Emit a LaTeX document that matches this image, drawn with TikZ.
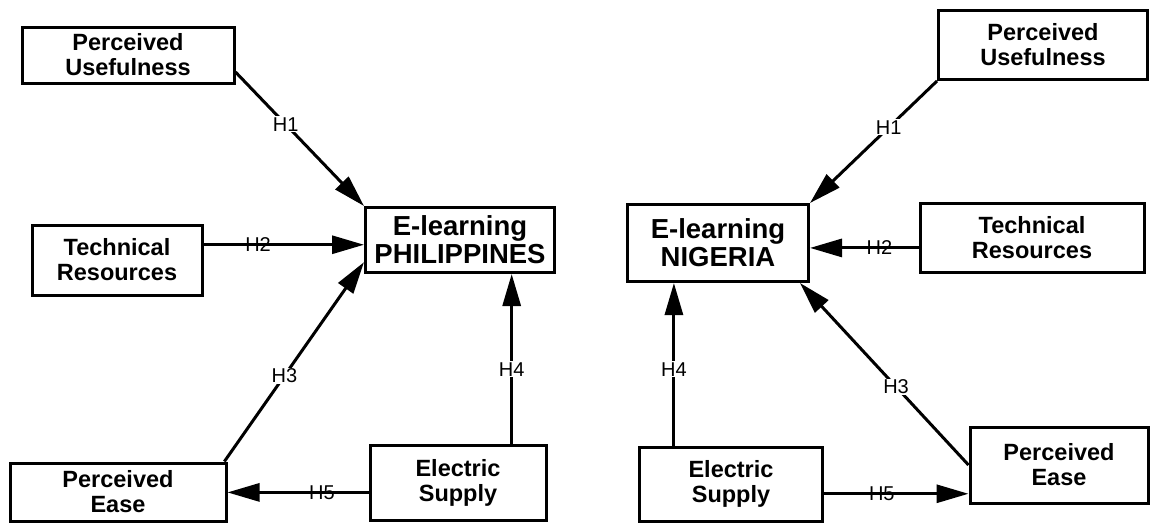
\documentclass[tikz,border=0pt]{standalone}
\usepackage{fontspec}
\setmainfont{Liberation Sans}
\usetikzlibrary{arrows.meta, positioning}

\begin{document}
\begin{tikzpicture}[
  x=1pt, y=-1pt,
  box/.style={draw, line width=3pt, align=center, inner sep=0pt,
    font=\bfseries\fontsize{23.5}{25}\selectfont},
  mainbox/.style={box, font=\bfseries\fontsize{27.5}{28}\selectfont},
  arrow/.style={-{Triangle[length=32pt,width=18pt]}, line width=3pt},
  hyp/.style={font=\fontsize{20}{20}\selectfont, fill=white, inner sep=1pt},
  hypline/.style={hyp, fill=none}
]
\useasboundingbox (0,0) rectangle (1151,522);

% Nodes (Philippines model)
\node[mainbox, minimum width=189pt, minimum height=65pt] (elph) at (460,240) {E-learning\\PHILIPPINES};
\node[box, minimum width=212pt, minimum height=56pt] (pul) at (128,55) {Perceived\\Usefulness};
\node[box, minimum width=170pt, minimum height=70pt] (trl) at (117,260) {Technical\\Resources};
\node[box, minimum width=216pt, minimum height=58pt] (pel) at (118,492) {Perceived\\Ease};
\node[box, minimum width=176pt, minimum height=75pt] (esl) at (458,483) {Electric\\Supply};

% Nodes (Nigeria model)
\node[mainbox, minimum width=181pt, minimum height=77pt] (elng) at (718,243) {E-learning\\NIGERIA};
\node[box, minimum width=209pt, minimum height=69pt] (pur) at (1043,45) {Perceived\\Usefulness};
\node[box, minimum width=224pt, minimum height=69pt] (trr) at (1032,238) {Technical\\Resources};
\node[box, minimum width=178pt, minimum height=76pt] (per) at (1059,465) {Perceived\\Ease};
\node[box, minimum width=183pt, minimum height=74pt] (esr) at (731,484) {Electric\\Supply};

% Hypotheses (Philippines)
\draw[arrow] (pul.-9) -- node[hyp, pos=0.39] {H1} (elph.north west);
\draw[arrow] (trl.10) -- node[hypline, pos=0.34] {H2} (trl.10 -| elph.west);
\draw[arrow] (pel.16) -- node[hyp, pos=0.43] {H3} (elph.193);
\draw[arrow] (esl.36) -- node[hyp, pos=0.44] {H4} (esl.36 |- elph.south);
\draw[arrow] (esl.186) -- node[hypline, pos=0.33] {H5} (esl.186 -| pel.east);

% Hypotheses (Nigeria)
\draw[arrow] (pur.south west) -- node[hyp, pos=0.38] {H1} (elng.north east);
\draw[arrow] (trr.185) -- node[hypline, pos=0.36] {H2} (trr.185 -| elng.east);
\draw[arrow] (per.west) -- node[hyp, pos=0.43] {H3} (elng.-26);
\draw[arrow] (esr.146) -- node[hyp, pos=0.47] {H4} (esr.146 |- elng.south);
\draw[arrow] (esr.-6) -- node[hypline, pos=0.40] {H5} (esr.-6 -| per.west);

\end{tikzpicture}
\end{document}
